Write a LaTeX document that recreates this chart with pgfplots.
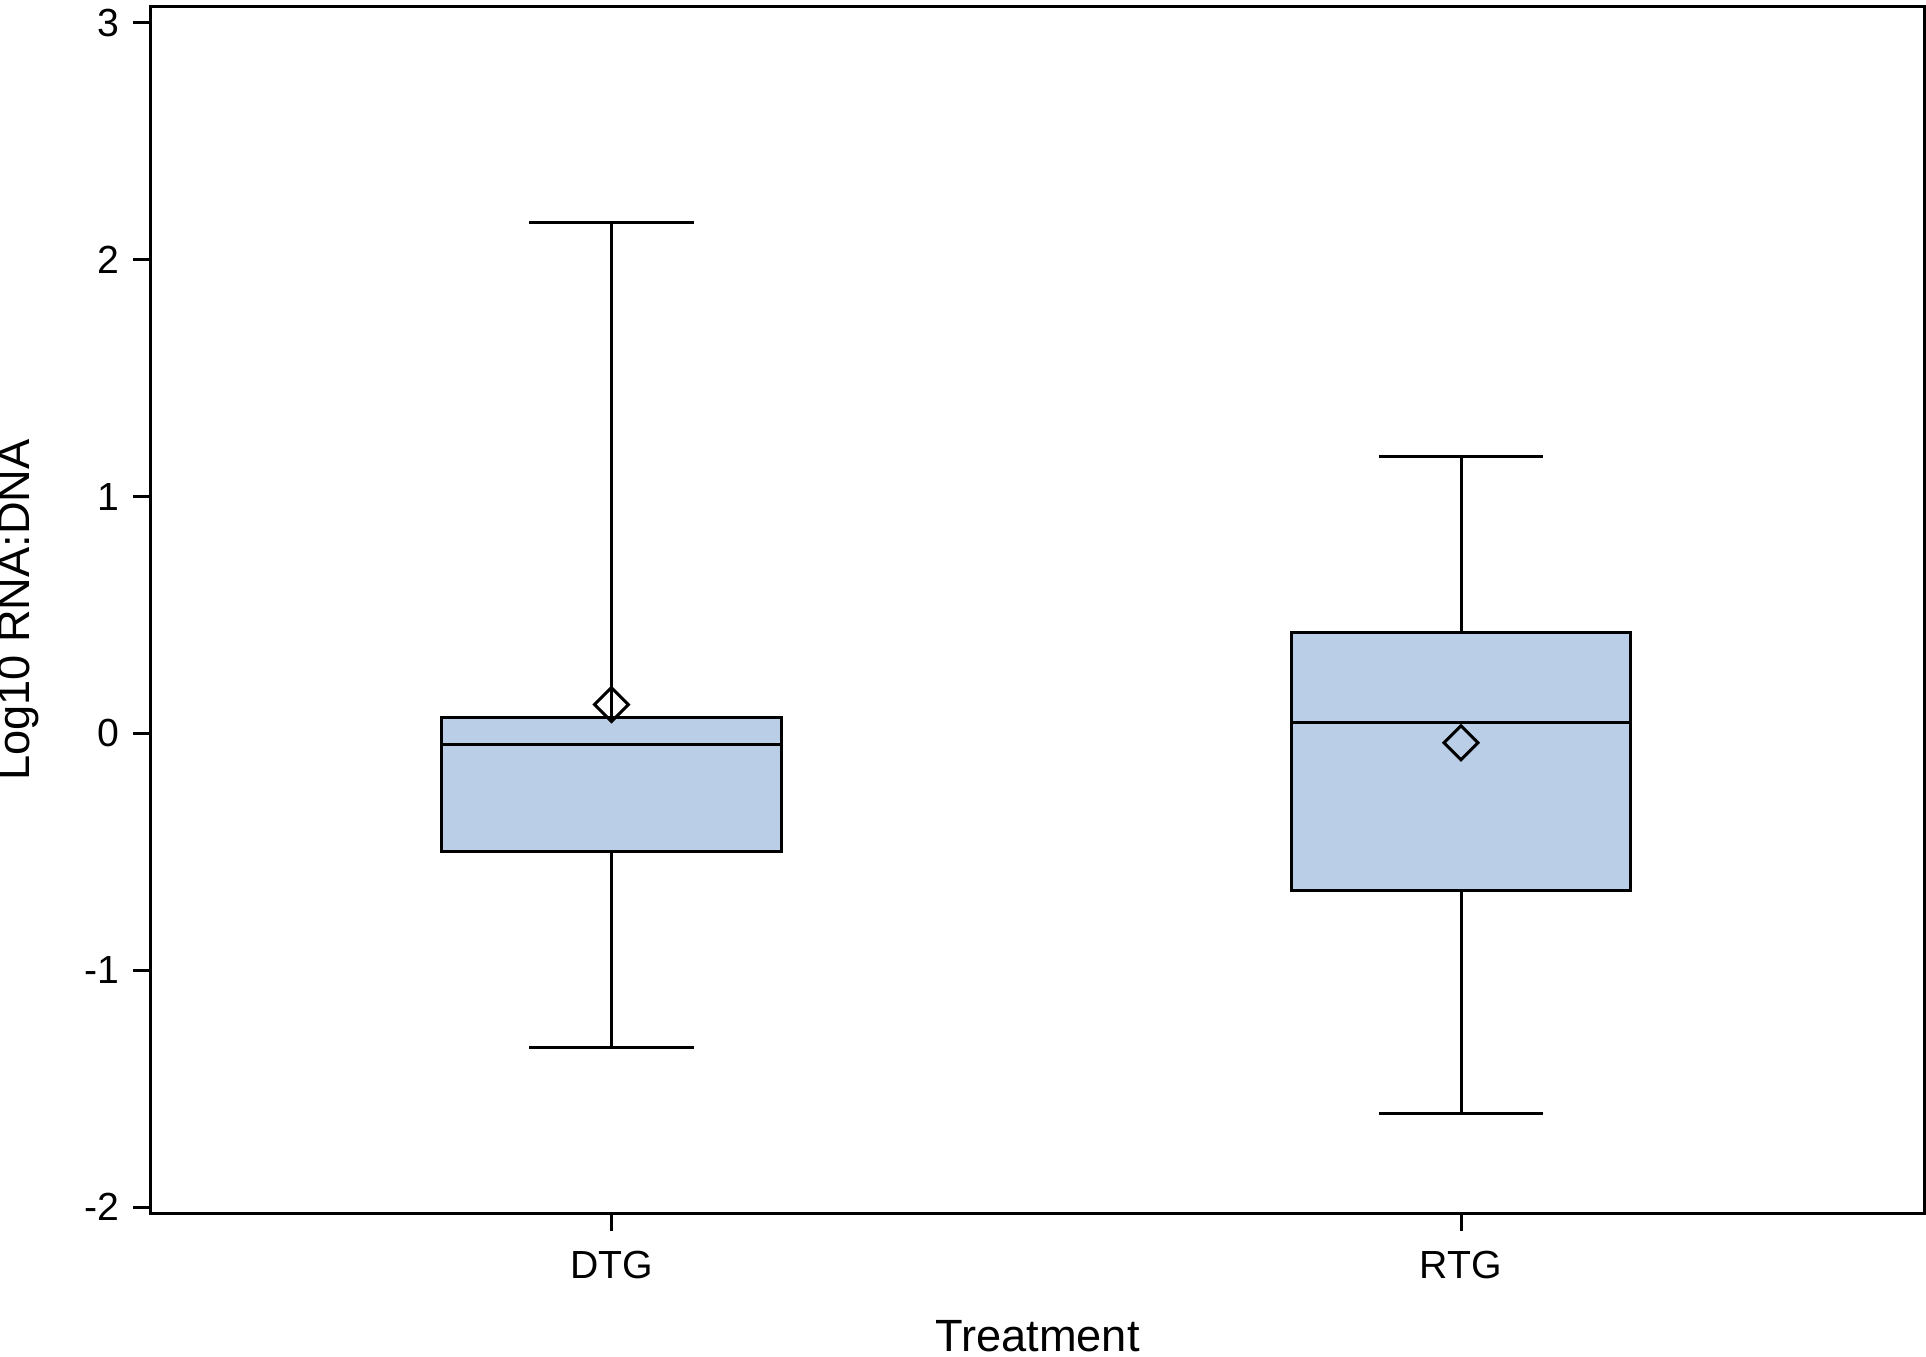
\documentclass[border=0pt]{standalone}
\usepackage{fontspec}
\setmainfont{Liberation Sans}
\usepackage{pgfplots}
\usepgfplotslibrary{statistics}
\pgfplotsset{compat=1.18}
\definecolor{boxfill}{RGB}{186,207,231}

\begin{document}
\begin{tikzpicture}[x=1pt,y=1pt]
\begin{axis}[
    name=main,
    scale only axis,
    width=443.25pt,
    height=301.5pt,
    xmin=0.458, xmax=2.545,
    ymin=-2.025, ymax=3.0675,
    xtick={1,2},
    xticklabels={DTG,RTG},
    ytick={-2,-1,0,1,2,3},
    tick align=outside,
    major tick length=4.5pt,
    xtick pos=bottom,
    ytick pos=left,
    axis line style={line width=0.75pt},
    every tick/.style={black,line width=0.75pt},
    /pgf/number format/assume math mode=true,
    tick label style={font=\fontsize{9.8}{11}\selectfont},
    xticklabel style={yshift=-1.5pt},
    xlabel={Treatment},
    ylabel={Log10 RNA:DNA},
    every axis x label/.style={at={(axis description cs:0.5,0)}, anchor=base, yshift=-34.5pt,
        font=\fontsize{11.3}{13}\selectfont},
    every axis y label/.style={at={(axis description cs:0,0.5)}, rotate=90, anchor=base, yshift=30.25pt,
        font=\fontsize{11.3}{13}\selectfont},
    boxplot/draw direction=y,
]
% DTG
\addplot+[black, line width=0.75pt, fill=boxfill, mark=none,
    boxplot prepared={
        lower whisker=-1.328, lower quartile=-0.497, median=-0.046,
        upper quartile=0.069, upper whisker=2.159,
        draw position=1, box extend=0.4, whisker extend=0.194}]
    coordinates {};
% RTG
\addplot+[black, line width=0.75pt, fill=boxfill, mark=none,
    boxplot prepared={
        lower whisker=-1.603, lower quartile=-0.662, median=0.048,
        upper quartile=0.425, upper whisker=1.170,
        draw position=2, box extend=0.4, whisker extend=0.194}]
    coordinates {};
% means
\addplot[only marks, mark=square, mark size=3pt,
    mark options={rotate=45, line width=0.75pt, black, fill=none}]
    coordinates {(1,0.122) (2,-0.039)};
\end{axis}
\pgfresetboundingbox
\path (main.south west) ++(-37.75pt,-35.75pt) coordinate (bl);
\path (main.north east) ++(0.5pt,1.75pt) coordinate (tr);
\path (bl) rectangle (tr);
\end{tikzpicture}
\end{document}
